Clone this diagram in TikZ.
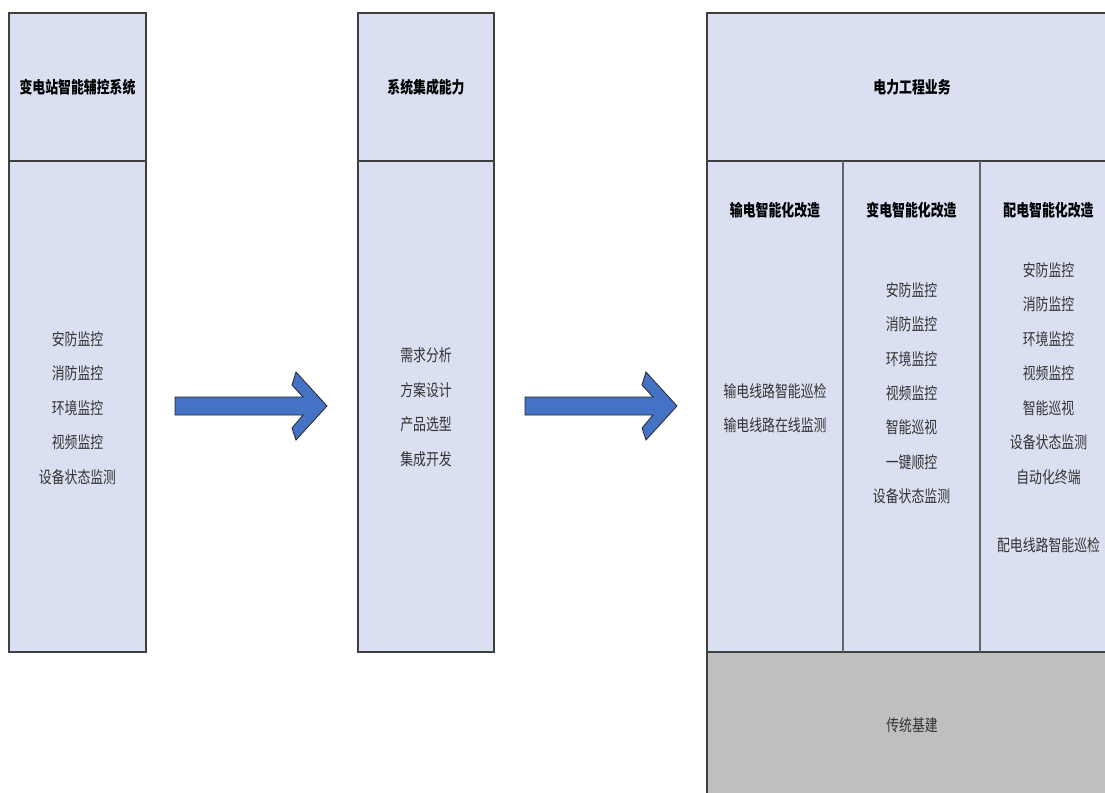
\documentclass[tikz,border=0pt]{standalone}
\usepackage{fontspec}
\newfontfamily\cjk[FakeStretch=0.78]{Noto Sans CJK SC}
\definecolor{boxfill}{HTML}{DAE0F2}
\definecolor{basegray}{HTML}{BFBFBF}
\definecolor{arrowblue}{HTML}{4472C4}

\begin{document}
\begin{tikzpicture}[x=1pt,y=-1pt,
    box/.style={draw=black!75,line width=1.2pt,fill=boxfill},
    hdr/.style={font=\cjk\bfseries\fontsize{16.5}{18}\selectfont},
    item/.style={font=\cjk\fontsize{16.5}{18}\selectfont,text=black!80},
    bigarrow/.style={fill=arrowblue,draw=black!85,line width=0.8pt,line join=miter}]
            \clip (0,0) rectangle (1105,792);
            \fill[white] (0,0) rectangle (1105,792);

            % substation system
            \draw[box] (9,13) rectangle (146,652);
            \draw[black!75,line width=1.2pt] (9,161) -- (146,161);
            \node[hdr] (sys) at (77.5,87) {变电站智能辅控系统};
            \foreach \t [count=\i] in {安防监控,消防监控,环境监控,视频监控,设备状态监测}
                \node[item] (sys\i) at (77.5,304.5+34.5*\i) {\t};

            % integration
            \draw[box] (358,13) rectangle (494,652);
            \draw[black!75,line width=1.2pt] (358,161) -- (494,161);
            \node[hdr] (integ) at (426,87) {系统集成能力};
            \foreach \t [count=\i] in {需求分析,方案设计,产品选型,集成开发}
                \node[item] (integ\i) at (426,320.5+34.7*\i) {\t};

            % power engineering
            \draw[box] (707,13) rectangle (1117,652);
            \fill[basegray] (707,652) rectangle (1117,820);
            \draw[black!75,line width=1.2pt] (707,652) -- (707,820);
            \draw[black!75,line width=1.2pt] (707,161) -- (1117,161);
            \draw[black!75,line width=1.2pt] (707,652) -- (1117,652);
            \draw[black!60,line width=1.2pt] (843,161) -- (843,652);
            \draw[black!60,line width=1.2pt] (980,161) -- (980,652);
            \node[hdr] (biz) at (912,87) {电力工程业务};
            \node[item] (base) at (912,725) {传统基建};

            \node[hdr] (trans) at (775,210) {输电智能化改造};
            \node[item] (trans1) at (775,391) {输电线路智能巡检};
            \node[item] (trans2) at (775,425) {输电线路在线监测};

            \node[hdr] (subst) at (911.5,210) {变电智能化改造};
            \foreach \t [count=\i] in {安防监控,消防监控,环境监控,视频监控,智能巡视,一键顺控,设备状态监测}
                \node[item] (subst\i) at (911.5,255.6+34.4*\i) {\t};

            \node[hdr] (distr) at (1048.5,210) {配电智能化改造};
            \foreach \t [count=\i] in {安防监控,消防监控,环境监控,视频监控,智能巡视,设备状态监测,自动化终端}
                \node[item] (distr\i) at (1048.5,235.6+34.5*\i) {\t};
            \node[item] (distr8) at (1048.5,545) {配电线路智能巡检};

            % block arrows
            \foreach \dx in {0,350}
                \draw[bigarrow,xshift=\dx] (175,397) -- (303,397) -- (292,385) -- (296,372)
                    -- (327,406) -- (296,440) -- (292,428) -- (303,415) -- (175,415) -- cycle;
        \end{tikzpicture}
\end{document}
